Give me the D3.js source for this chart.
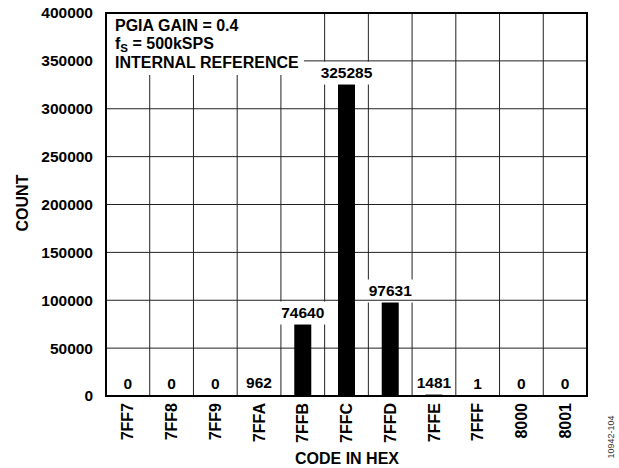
<!DOCTYPE html>
<html>
<head>
<meta charset="utf-8">
<script src="https://cdn.jsdelivr.net/npm/d3@7"></script>
<style>
  body { margin: 0; background: #fff; }
  text { font-family: "Liberation Sans", Arial, sans-serif; font-weight: bold; fill: #000; }
</style>
</head>
<body>
<svg id="chart" width="619" height="468"></svg>
<script>
const codes = ["7FF7", "7FF8", "7FF9", "7FFA", "7FFB", "7FFC", "7FFD", "7FFE", "7FFF", "8000", "8001"];
const counts = [0, 0, 0, 962, 74640, 325285, 97631, 1481, 1, 0, 0];
const yTicks = [0, 50000, 100000, 150000, 200000, 250000, 300000, 350000, 400000];
const notes = ["PGIA GAIN = 0.4", "fS = 500kSPS", "INTERNAL REFERENCE"];

const margin = {left: 106, top: 13},
    width = 481,
    height = 383;
const fs = "15.5px";

const svg = d3.select("#chart");
const g = svg.append("g")
    .attr("transform", "translate(" + margin.left + "," + margin.top + ")");

const x = d3.scaleBand().domain(codes).range([0, width]);
const y = d3.scaleLinear().domain([0, 400000]).range([height, 0]);

// vertical grid
g.selectAll(".vgrid")
    .data(codes.slice(1))
    .enter().append("line")
    .attr("x1", d => x(d)).attr("x2", d => x(d))
    .attr("y1", 0).attr("y2", height)
    .attr("stroke", "#222").attr("stroke-width", 1);

const data = codes.map((c, i) => ({code: c, value: counts[i]}));

// white patches behind value labels (break vertical grid)
g.selectAll(".lblbg")
    .data(data.filter(d => d.value >= 10000))
    .enter().append("rect")
    .attr("x", d => x(d.code) + x.bandwidth() / 2 - 24)
    .attr("width", 48)
    .attr("y", d => y(d.value) - 23)
    .attr("height", 23)
    .attr("fill", "#fff");

// horizontal grid
g.selectAll(".hgrid")
    .data(yTicks.slice(1, -1))
    .enter().append("line")
    .attr("x1", 0).attr("x2", width)
    .attr("y1", d => y(d)).attr("y2", d => y(d))
    .attr("stroke", "#222").attr("stroke-width", 1);

// bars
g.selectAll(".bar")
    .data(data)
    .enter().append("rect")
    .attr("x", d => x(d.code) + x.bandwidth() / 2 - 8.5)
    .attr("width", 17)
    .attr("y", d => y(d.value))
    .attr("height", d => height - y(d.value))
    .attr("fill", "#000");

// value labels
g.selectAll(".val")
    .data(data)
    .enter().append("text")
    .attr("x", d => x(d.code) + x.bandwidth() / 2)
    .attr("y", d => y(d.value) - 7)
    .attr("text-anchor", "middle")
    .style("font-size", fs)
    .text(d => d.value);

// annotation box
g.append("rect")
    .attr("x", 1).attr("y", 1)
    .attr("width", 197).attr("height", 61)
    .attr("fill", "#fff");

const note = g.append("text")
    .style("font-size", "16px");
note.append("tspan").attr("x", 9).attr("y", 18).text(notes[0]);
const l2 = note.append("tspan").attr("x", 9).attr("y", 36);
l2.append("tspan").text("f");
l2.append("tspan").attr("dy", 3).style("font-size", "11.5px").text("S");
l2.append("tspan").attr("dy", -3).text(" = 500kSPS");
note.append("tspan").attr("x", 9).attr("y", 55).text(notes[2]);

// frame
g.append("rect")
    .attr("width", width).attr("height", height)
    .attr("fill", "none").attr("stroke", "#000").attr("stroke-width", 2);

// y tick labels
g.selectAll(".ytick")
    .data(yTicks)
    .enter().append("text")
    .attr("x", -13)
    .attr("y", d => y(d))
    .attr("dy", "0.35em")
    .attr("text-anchor", "end")
    .style("font-size", fs)
    .text(d => d);

// x tick labels
g.selectAll(".xtick")
    .data(codes)
    .enter().append("text")
    .attr("transform", d => "translate(" + (x(d) + x.bandwidth() / 2) + "," + (height + 7) + ") rotate(-90)")
    .attr("dy", "0.35em")
    .attr("text-anchor", "end")
    .style("font-size", "16px")
    .text(d => d);

// axis titles
svg.append("text")
    .attr("transform", "translate(22,203) rotate(-90)")
    .attr("dy", "0.35em")
    .attr("text-anchor", "middle")
    .style("font-size", "16px")
    .text("COUNT");

svg.append("text")
    .attr("x", 347).attr("y", 464)
    .attr("text-anchor", "middle")
    .style("font-size", "16px")
    .text("CODE IN HEX");

svg.append("text")
    .attr("transform", "translate(611,437) rotate(-90)")
    .attr("dy", "0.35em")
    .attr("text-anchor", "middle")
    .style("font-size", "9px")
    .style("font-weight", "normal")
    .style("fill", "#333")
    .text("10942-104");
</script>
</body>
</html>
